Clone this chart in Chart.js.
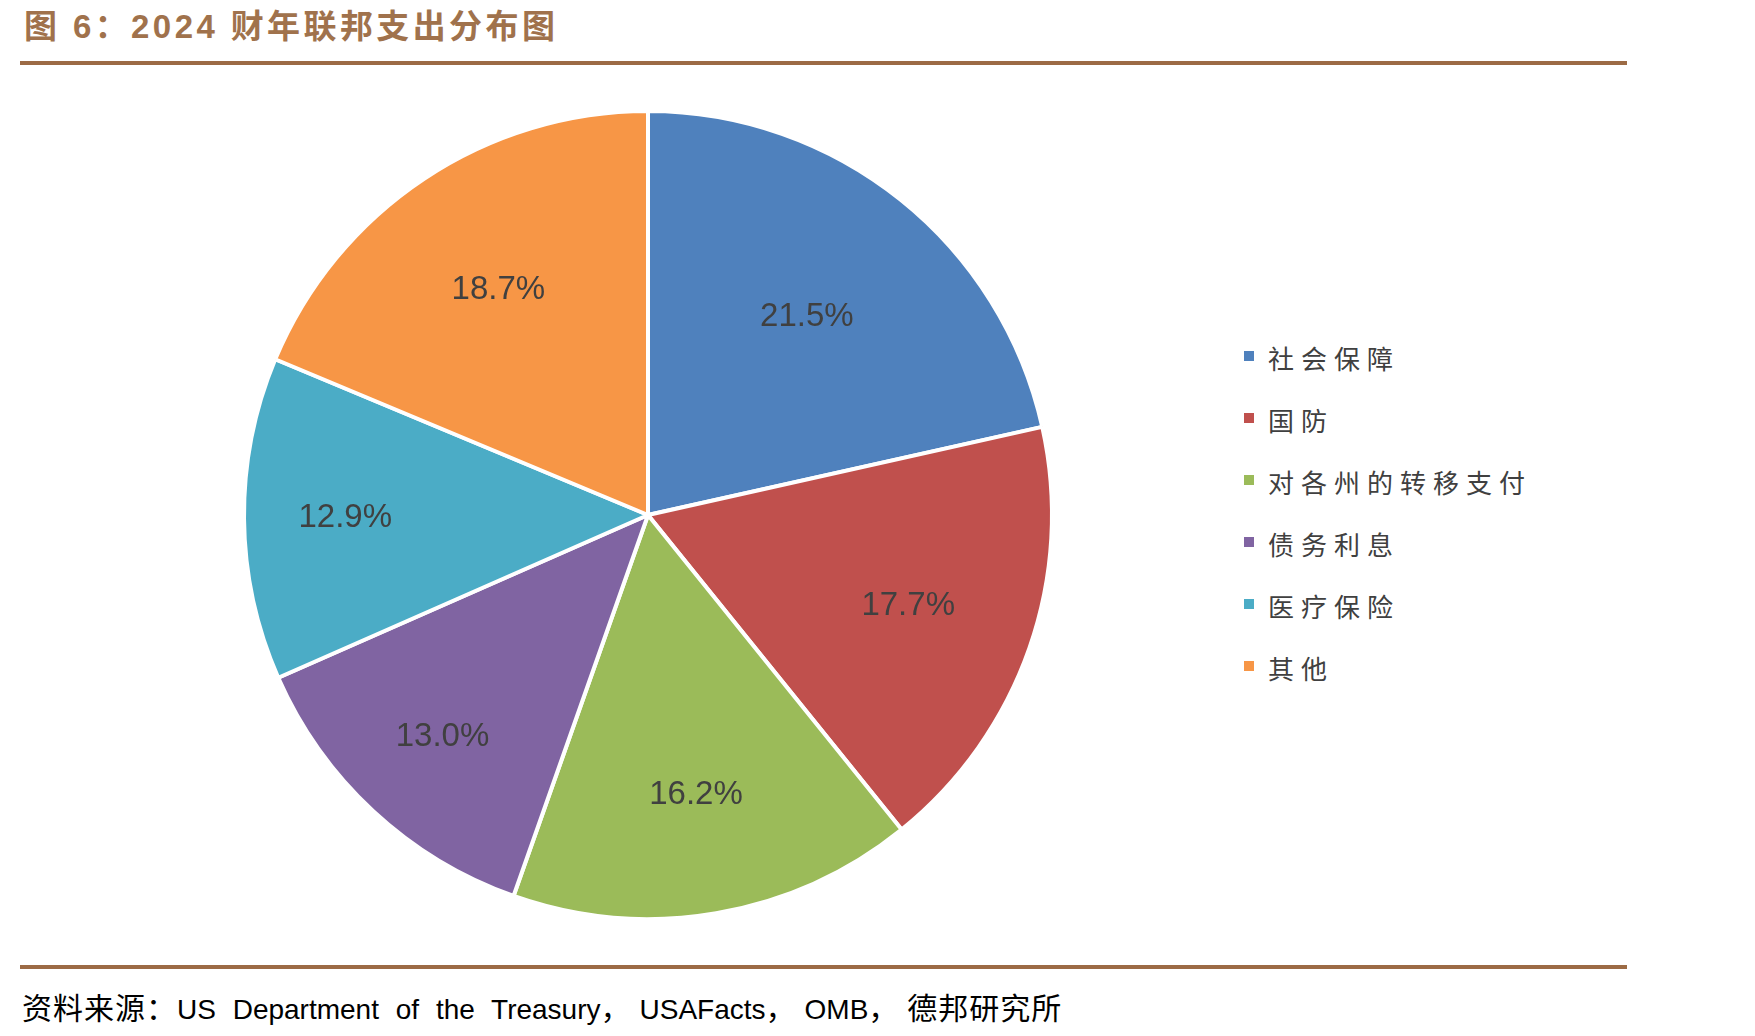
<!DOCTYPE html>
<html>
<head>
<meta charset="utf-8">
<script src="https://cdn.jsdelivr.net/npm/chart.js@4.4.1/dist/chart.umd.min.js"></script>
<style>
  body { margin: 0; background: #fff; width: 1755px; height: 1036px; position: relative; overflow: hidden; }
  #title { position: absolute; left: 24px; top: 0px; font: bold 33px "Liberation Sans", "Noto Sans CJK SC", sans-serif; color: #a0724c; letter-spacing: 3.4px; }
  .rule { position: absolute; left: 20px; width: 1607px; height: 4px; background: #9c6b45; }
  #wrap { position: absolute; left: 238px; top: 105px; width: 820px; height: 820px; }
  #legend { position: absolute; left: 1244px; top: 339px; }
  .item { height: 62px; display: flex; align-items: flex-start; font: 26px "Noto Sans CJK SC", sans-serif; color: #404040; letter-spacing: 7px; }
  .box { width: 10px; height: 10px; margin: 12px 14px 0 0; }
  #source { position: absolute; left: 22px; top: 984px; font: 28px "Liberation Sans", "Noto Sans CJK SC", sans-serif; color: #000; white-space: nowrap; word-spacing: 9px; }
  #source .cjk { font-size: 30px; letter-spacing: 1px; }
  #source .comma { font-size: 30px; letter-spacing: 9px; }
</style>
</head>
<body>
<div id="title">图 6：2024 财年联邦支出分布图</div>
<div class="rule" style="top:61px"></div>
<div id="wrap"><canvas id="pie"></canvas></div>
<div id="legend"></div>
<div class="rule" style="top:965px"></div>
<div id="source"><span class="cjk">资料来源：</span>US Department of the Treasury<span class="comma">，</span>USAFacts<span class="comma">，</span>OMB<span class="comma">，</span><span class="cjk">德邦研究所</span></div>
<script>
// 2024财年联邦支出占比（%）
const categories = ['社会保障', '国防', '对各州的转移支付', '债务利息', '医疗保险', '其他'];
const shares = [21.5, 17.7, 16.2, 13.0, 12.9, 18.7];
const colors = ['#4f81bd', '#c0504d', '#9bbb59', '#8064a2', '#4bacc6', '#f79646'];

// 扇区内的百分比标签
const sliceLabels = {
    id: 'sliceLabels',
    afterDatasetsDraw(chart) {
        const ctx = chart.ctx;
        const meta = chart.getDatasetMeta(0);
        ctx.save();
        ctx.font = '33px "Liberation Sans", Arial, sans-serif';
        ctx.fillStyle = '#404040';
        ctx.textAlign = 'center';
        ctx.textBaseline = 'middle';
        meta.data.forEach((arc, i) => {
            const p = arc.getProps(['x', 'y', 'startAngle', 'endAngle', 'outerRadius'], true);
            const mid = (p.startAngle + p.endAngle) / 2;
            const f = 0.93 - 1.4 * shares[i] / 100; // 小扇区标签靠外
            const r = p.outerRadius * f;
            ctx.fillText(shares[i].toFixed(1) + '%', p.x + Math.cos(mid) * r, p.y + Math.sin(mid) * r);
        });
        ctx.restore();
    }
};

new Chart(document.getElementById('pie'), {
    type: 'pie',
    data: {
        labels: categories,
        datasets: [{
            data: shares,
            backgroundColor: colors,
            borderColor: '#ffffff',
            borderWidth: 4
        }]
    },
    options: {
        responsive: true,
        maintainAspectRatio: false,
        animation: false,
        radius: 404,
        layout: { padding: 0 },
        plugins: {
            legend: { display: false },
            tooltip: { enabled: false }
        }
    },
    plugins: [sliceLabels]
});

// 图例
const legend = document.getElementById('legend');
categories.forEach((name, i) => {
    const row = document.createElement('div');
    row.className = 'item';
    row.innerHTML = '<span class="box" style="background:' + colors[i] + '"></span><span>' + name + '</span>';
    legend.appendChild(row);
});
</script>
</body>
</html>
